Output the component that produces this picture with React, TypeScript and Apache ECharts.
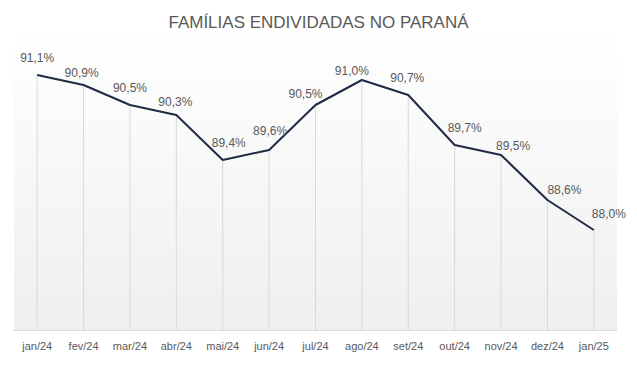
import React, { useEffect, useRef } from "react";
import * as echarts from "echarts";

const categories = ["jan/24","fev/24","mar/24","abr/24","mai/24","jun/24","jul/24","ago/24","set/24","out/24","nov/24","dez/24","jan/25"];
const values = [91.1, 90.9, 90.5, 90.3, 89.4, 89.6, 90.5, 91.0, 90.7, 89.7, 89.5, 88.6, 88.0];
const title = "FAMÍLIAS ENDIVIDADAS NO PARANÁ";

export default function App() {
  const ref = useRef<HTMLDivElement>(null);
  useEffect(() => {
    // label placement (style only): offsets from each point, as auto-placed in the source chart
    const labelOffsets: [number, number][] = [
      [0, -17], [-2, -12], [0, -17], [-1, -13], [6, -17], [1, -19], [-10, -11],
      [-10, -9], [-1, -17], [10, -17], [12, -9], [17, -10], [15, -16],
    ];
    const chart = echarts.init(ref.current!, null, { renderer: "svg" });
    chart.setOption({
      animation: false,
      backgroundColor: "#ffffff",
      title: {
        text: title,
        left: "center",
        top: 9,
        textStyle: { fontFamily: "Liberation Sans", fontSize: 17, fontWeight: "normal", color: "#595959" },
      },
      grid: {
        left: 14, right: 20, top: 30, bottom: 43,
        show: true,
        borderWidth: 0,
        backgroundColor: new echarts.graphic.LinearGradient(0, 0, 0, 1, [
          { offset: 0, color: "#ffffff" },
          { offset: 1, color: "#efefef" },
        ]),
      },
      xAxis: {
        type: "category",
        data: categories,
        boundaryGap: true,
        axisLine: { lineStyle: { color: "#d9d9d9", width: 1 } },
        axisTick: { show: false },
        axisLabel: { fontFamily: "Liberation Sans", fontSize: 11, color: "#595959", margin: 10, interval: 0 },
      },
      yAxis: {
        type: "value",
        min: 86,
        max: 92,
        show: false,
        splitLine: { show: false },
      },
      series: [
        {
          type: "bar",
          data: values,
          barWidth: 1,
          itemStyle: { color: "#d9d9d9" },
          silent: true,
          z: 1,
        },
        {
          type: "line",
          data: values.map((v, i) => ({
            value: v,
            label: { offset: labelOffsets[i] },
          })),
          symbol: "circle",
          symbolSize: 1,
          showSymbol: true,
          itemStyle: { color: "#1f2a44", opacity: 0 },
          lineStyle: { color: "#1f2a44", width: 2, opacity: 1 },
          z: 3,
          label: {
            show: true,
            position: "inside",
            fontFamily: "Liberation Sans",
            fontSize: 12,
            color: "#595959",
            opacity: 1,
            formatter: (p: any) => Number(p.value).toFixed(1).replace(".", ",") + "%",
          },
        },
      ],
    });
    return () => chart.dispose();
  }, []);
  return <div ref={ref} style={{ width: 637, height: 373, position: "absolute", left: 0, top: 0 }} />;
}
